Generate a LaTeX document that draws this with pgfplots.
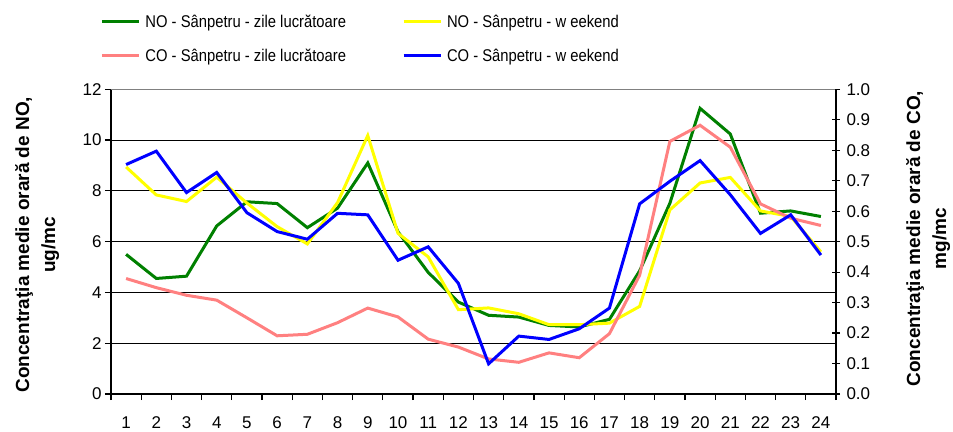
\documentclass[border=0pt]{standalone}
\usepackage{fontspec}
\setmainfont{Liberation Sans}
\newfontfamily\legendfont[FakeStretch=0.87]{Liberation Sans}
\usepackage{pgfplots}
\pgfplotsset{compat=1.18}
\definecolor{nogreen}{RGB}{0,128,0}
\definecolor{noyellow}{RGB}{255,255,0}
\definecolor{copink}{RGB}{255,128,128}
\definecolor{coblue}{RGB}{0,0,255}
\newcommand{\tickfont}{\fontsize{17bp}{20bp}\selectfont}
\newcommand{\labfont}{\fontsize{19bp}{26bp}\selectfont\bfseries}
\begin{document}
\begin{tikzpicture}
\path[use as bounding box] (-111bp,-38bp) rectangle (842bp,394bp);
\begin{axis}[
  at={(0,0)}, anchor=south west,
  scale only axis, width=725bp, height=304.7bp,
  xmin=0.5, xmax=24.5, ymin=0, ymax=12,
  axis x line*=bottom, axis y line*=left,
  axis line style={line width=1.5bp, black},
  xtick={1,...,24},
  major x tick style={draw=none},
  minor xtick={0.5,1.5,...,24.5},
  minor x tick style={black, line width=1.2bp},
  tick align=outside,
  major tick length=6bp, minor tick length=6bp,
  xticklabel style={yshift=-13bp},
  ytick={0,2,...,12},
  y tick style={black, line width=1.2bp},
  extra y ticks={2,4,6,8,10},
  extra y tick labels={},
  extra y tick style={grid=major, major tick length=0pt, major grid style={black, line width=1.1bp}},
  ticklabel style={font=\tickfont},
  /pgf/number format/assume math mode=true,
  ylabel={Concentra\c{t}ia medie orar\u{a} de NO,\\ug/mc},
  ylabel style={at={(axis description cs:-0.1017,0.49)}, anchor=center, align=center, font=\labfont},
]
\addplot[nogreen, line width=3bp] coordinates {
(1,5.50) (2,4.55) (3,4.64) (4,6.62) (5,7.57) (6,7.50) (7,6.55) (8,7.32) (9,9.10) (10,6.39) (11,4.79) (12,3.62)
(13,3.10) (14,3.03) (15,2.70) (16,2.64) (17,2.94) (18,4.85) (19,7.51) (20,11.25) (21,10.24) (22,7.12) (23,7.21) (24,6.99)};
\addplot[noyellow, line width=3bp] coordinates {
(1,8.94) (2,7.84) (3,7.58) (4,8.54) (5,7.52) (6,6.59) (7,5.91) (8,7.54) (9,10.18) (10,6.33) (11,5.40) (12,3.32)
(13,3.39) (14,3.16) (15,2.73) (16,2.73) (17,2.79) (18,3.45) (19,7.25) (20,8.31) (21,8.53) (22,7.21) (23,6.99) (24,5.60)};
\end{axis}
\begin{axis}[
  at={(0,0)}, anchor=south west,
  scale only axis, width=725bp, height=304.7bp,
  xmin=0.5, xmax=24.5, ymin=0, ymax=1,
  axis x line*=top, axis y line*=right,
  x axis line style={gray, line width=1.5bp},
  y axis line style={black, line width=1.5bp},
  xtick=\empty,
  ytick={0,0.1,0.2,0.3,0.4,0.5,0.6,0.7,0.8,0.9,1.0},
  ytick align=center, major tick length=8bp,
  y tick style={black, line width=1.2bp},
  yticklabel style={font=\tickfont, xshift=3bp, /pgf/number format/.cd, fixed, fixed zerofill, precision=1},
  /pgf/number format/assume math mode=true,
  ylabel={Concentra\c{t}ia medie orar\u{a} de CO,\\mg/mc},
  ylabel style={at={(axis description cs:1.127,0.51)}, anchor=center, align=center, font=\labfont},
  legend columns=2,
  legend style={draw=none, fill=none, at={(axis description cs:-0.0148,1.245)}, anchor=north west,
    inner sep=0pt, row sep=20bp, column sep=5bp,
    nodes={inner sep=0pt, anchor=west, font=\legendfont\fontsize{17bp}{20bp}\selectfont},
    /tikz/every even column/.append style={column sep=56bp}},
  legend image code/.code={\draw[#1] (0bp,0bp) -- (37bp,0bp);},
]
\addlegendimage{nogreen, line width=3bp}
\addlegendentry{NO - Sânpetru - zile lucrătoare}
\addlegendimage{noyellow, line width=3bp}
\addlegendentry{NO - Sânpetru - w eekend}
\addplot[copink, line width=3bp] coordinates {
(1,0.379) (2,0.349) (3,0.324) (4,0.308) (5,0.250) (6,0.191) (7,0.196) (8,0.234) (9,0.282) (10,0.253) (11,0.180) (12,0.154)
(13,0.115) (14,0.104) (15,0.135) (16,0.119) (17,0.198) (18,0.390) (19,0.829) (20,0.882) (21,0.810) (22,0.624) (23,0.577) (24,0.553)};
\addlegendentry{CO - Sânpetru - zile lucrătoare}
\addplot[coblue, line width=3bp] coordinates {
(1,0.753) (2,0.797) (3,0.661) (4,0.727) (5,0.595) (6,0.533) (7,0.508) (8,0.593) (9,0.588) (10,0.439) (11,0.483) (12,0.363)
(13,0.099) (14,0.190) (15,0.179) (16,0.214) (17,0.282) (18,0.624) (19,0.698) (20,0.766) (21,0.654) (22,0.527) (23,0.588) (24,0.456)};
\addlegendentry{CO - Sânpetru - w eekend}
\end{axis}
\end{tikzpicture}
\end{document}
